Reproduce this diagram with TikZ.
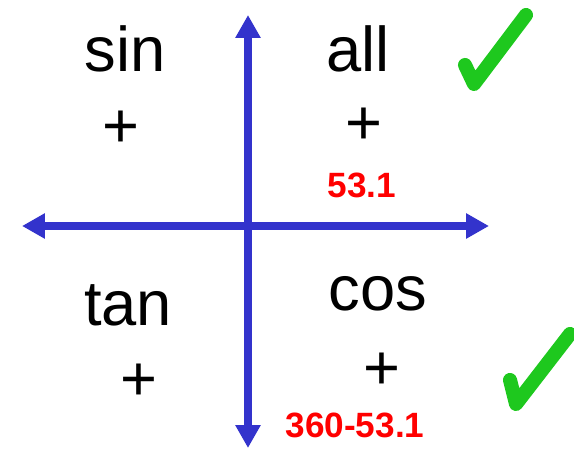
\documentclass[tikz,border=0pt]{standalone}
\usepackage{fontspec}
\setmainfont{Liberation Sans}
\usetikzlibrary{arrows.meta}
\definecolor{axisblue}{RGB}{51,51,204}
\definecolor{tickgreen}{RGB}{30,200,30}
\definecolor{anglered}{RGB}{255,0,0}

\begin{document}
\begin{tikzpicture}[x=0.02cm,y=-0.02cm,
  fname/.style={anchor=base,inner sep=0pt,font=\fontsize{36}{40}\selectfont},
  sign/.style={inner sep=0pt,font=\fontsize{36}{40}\selectfont},
  angle/.style={anchor=base,inner sep=0pt,text=anglered,font=\fontsize{20}{24}\selectfont\bfseries},
  axis/.style={{Triangle[length=0.46cm,width=0.48cm]}-{Triangle[length=0.46cm,width=0.48cm]},line width=4pt,draw=axisblue},
  tick/.style={draw=tickgreen,line width=8pt,line cap=round,line join=round}
]
\useasboundingbox (0,0) rectangle (574,449);
% axes
\coordinate (west) at (22,226);
\coordinate (east) at (489,226);
\coordinate (north) at (248,15);
\coordinate (south) at (248,448);
\draw[axis] (west) -- (east);
\draw[axis] (south) -- (north);
% quadrant labels
\node[fname] (sin) at (125,72) {sin};
\node[fname] (all) at (358,72) {all};
\node[fname] (tan) at (128,325) {tan};
\node[fname] (cos) at (378,310) {cos};
\node[sign] (sinsign) at (121,129) {+};
\node[sign] (allsign) at (364,126) {+};
\node[sign] (tansign) at (139,382) {+};
\node[sign] (cossign) at (382,371) {+};
% angles
\node[angle] (first) at (362,197) {53.1};
\node[angle] (fourth) at (355,437) {360-53.1};
% ticks
\coordinate (tickA1) at (465,65);
\coordinate (tickA2) at (474,84);
\coordinate (tickA3) at (526,15);
\draw[tick] (tickA1) -- (tickA2) -- (tickA3);
\coordinate (tickB1) at (510,380);
\coordinate (tickB2) at (516,404);
\coordinate (tickB3) at (570,334);
\draw[tick] (tickB1) -- (tickB2) -- (tickB3);
\end{tikzpicture}
\end{document}
